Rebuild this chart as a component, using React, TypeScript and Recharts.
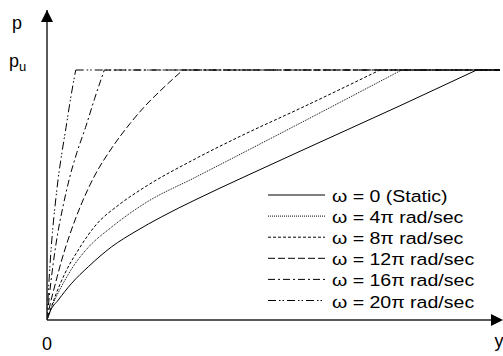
import { LineChart, Line, XAxis, YAxis, Legend, ReferenceDot } from 'recharts';

// legend text and dash style per angular speed
const labels = ['ω = 0 (Static)', 'ω = 4π rad/sec', 'ω = 8π rad/sec', 'ω = 12π rad/sec', 'ω = 16π rad/sec', 'ω = 20π rad/sec'];
const dashes = ['0', '1 1', '3 2', '7 3', '7 3 2 3', '8 3 1.5 2 1.5 3'];

// displacement y (fraction of axis length) and resistance p (fraction of pu)
const yStatic = [0, 0.0066, 0.025, 0.0545, 0.0912, 0.1428, 0.1943, 0.2532, 0.3267, 0.4371, 0.5585, 0.7792, 0.9486];
const pStatic = [0, 0.033, 0.08, 0.147, 0.213, 0.293, 0.353, 0.413, 0.48, 0.574, 0.675, 0.857, 1];

const y4pi = [0, 0.0139, 0.0358, 0.0616, 0.0909, 0.1428, 0.2163, 0.3267, 0.4371, 0.5585, 0.783];
const p4pi = [0, 0.067, 0.147, 0.224, 0.29, 0.372, 0.467, 0.57, 0.673, 0.787, 1];

const y8pi = [0, 0.0177, 0.0397, 0.069, 0.106, 0.1611, 0.2163, 0.3267, 0.4371, 0.5585, 0.7351];
const p8pi = [0, 0.093, 0.187, 0.28, 0.376, 0.464, 0.532, 0.644, 0.744, 0.846, 1];

const y12pi = [0, 0.0066, 0.0177, 0.0325, 0.05, 0.075, 0.106, 0.14, 0.183, 0.216, 0.249, 0.3];
const p12pi = [0, 0.06, 0.14, 0.24, 0.34, 0.46, 0.58, 0.68, 0.785, 0.855, 0.915, 1];

const y16pi = [0, 0.006, 0.014, 0.024, 0.036, 0.05, 0.066, 0.085, 0.105, 0.1265];
const p16pi = [0, 0.11, 0.23, 0.35, 0.46, 0.57, 0.67, 0.77, 0.885, 1];

const y20pi = [0, 0.003, 0.007, 0.012, 0.018, 0.025, 0.033, 0.042, 0.052, 0.0634];
const p20pi = [0, 0.11, 0.23, 0.35, 0.46, 0.57, 0.67, 0.77, 0.885, 1];

const yEnd = 1;
const pu = 1;
const pTop = 1.24;

const ys = [yStatic, y4pi, y8pi, y12pi, y16pi, y20pi];
const ps = [pStatic, p4pi, p8pi, p12pi, p16pi, p20pi];

const series = ys.map((yArr, i) => ({
  curve: yArr.map((x, k) => ({ x, p: ps[i][k] })),
  flat: [{ x: yArr[yArr.length - 1], p: pu }, { x: yEnd, p: pu }],
}));

const FONT = '"Liberation Sans", Arial, sans-serif';
const AXIS = '#222';

const XTick = ({ x, y, payload }: any) => (
  <text x={x} y={payload.value === 0 ? y + 30 : y + 27} textAnchor="middle" fontSize={18} fontFamily={FONT} fill="#000">
    {payload.value === 0 ? '0' : 'y'}
  </text>
);

const YTick = ({ x, y, payload }: any) =>
  payload.value === pu ? (
    <text x={x - 38} y={y - 3} fontSize={18} fontFamily={FONT} fill="#000">
      p<tspan fontSize={13} dy={4}>u</tspan>
    </text>
  ) : (
    <text x={x - 35} y={y + 19} fontSize={18} fontFamily={FONT} fill="#000">p</text>
  );

const upArrow = ({ cx, cy }: any) => (
  <path d={`M${cx},${cy} L${cx - 6},${cy + 12} L${cx + 6},${cy + 12} Z`} fill="#000" />
);
const rightArrow = ({ cx, cy }: any) => (
  <path d={`M${cx + 3},${cy} L${cx - 9},${cy - 6} L${cx - 9},${cy + 6} Z`} fill="#000" />
);

const renderLegend = () => (
  <svg width={240} height={135}>
    {labels.map((t, i) => {
      const cy = 15 + i * 21.1;
      return (
        <g key={t}>
          <line x1={6} x2={63} y1={cy} y2={cy} stroke="#000" strokeWidth={1} strokeDasharray={dashes[i]} />
          <text transform={`translate(70 ${cy + 7}) scale(1.15 1)`} fontSize={17} fontFamily={FONT} fill="#000">
            {t}
          </text>
        </g>
      );
    })}
  </svg>
);

export default function App() {
  return (
    <div style={{ position: 'absolute', left: 0, top: 0 }}>
      <LineChart width={503} height={356} margin={{ top: 10, right: 3, bottom: 0, left: 0 }}>
        <XAxis
          dataKey="x"
          type="number"
          domain={[0, yEnd]}
          ticks={[0, yEnd]}
          height={36}
          tickSize={0}
          tickMargin={0}
          tick={<XTick />}
          axisLine={{ stroke: AXIS, strokeWidth: 1.5 }}
          allowDataOverflow
        />
        <YAxis
          type="number"
          domain={[0, pTop]}
          ticks={[pu, pTop]}
          width={47}
          tickSize={0}
          tickMargin={0}
          tick={<YTick />}
          axisLine={{ stroke: AXIS, strokeWidth: 1.5 }}
          allowDataOverflow
        />
        {series.map((s, i) => (
          <Line
            key={'c' + i}
            data={s.curve}
            dataKey="p"
            type="monotone"
            stroke="#000"
            strokeWidth={1}
            strokeDasharray={dashes[i]}
            dot={false}
            activeDot={false}
            isAnimationActive={false}
          />
        ))}
        {series.map((s, i) => (
          <Line
            key={'f' + i}
            data={s.flat}
            dataKey="p"
            type="linear"
            stroke="#000"
            strokeWidth={1}
            strokeDasharray={dashes[i]}
            dot={false}
            activeDot={false}
            legendType="none"
            isAnimationActive={false}
          />
        ))}
        <ReferenceDot x={0} y={pTop} r={0} ifOverflow="visible" shape={upArrow} />
        <ReferenceDot x={yEnd} y={0} r={0} ifOverflow="visible" shape={rightArrow} />
        <Legend
          layout="vertical"
          align="center"
          verticalAlign="middle"
          content={renderLegend}
          wrapperStyle={{ left: 262, top: 180, width: 240, height: 135 }}
        />
      </LineChart>
    </div>
  );
}
